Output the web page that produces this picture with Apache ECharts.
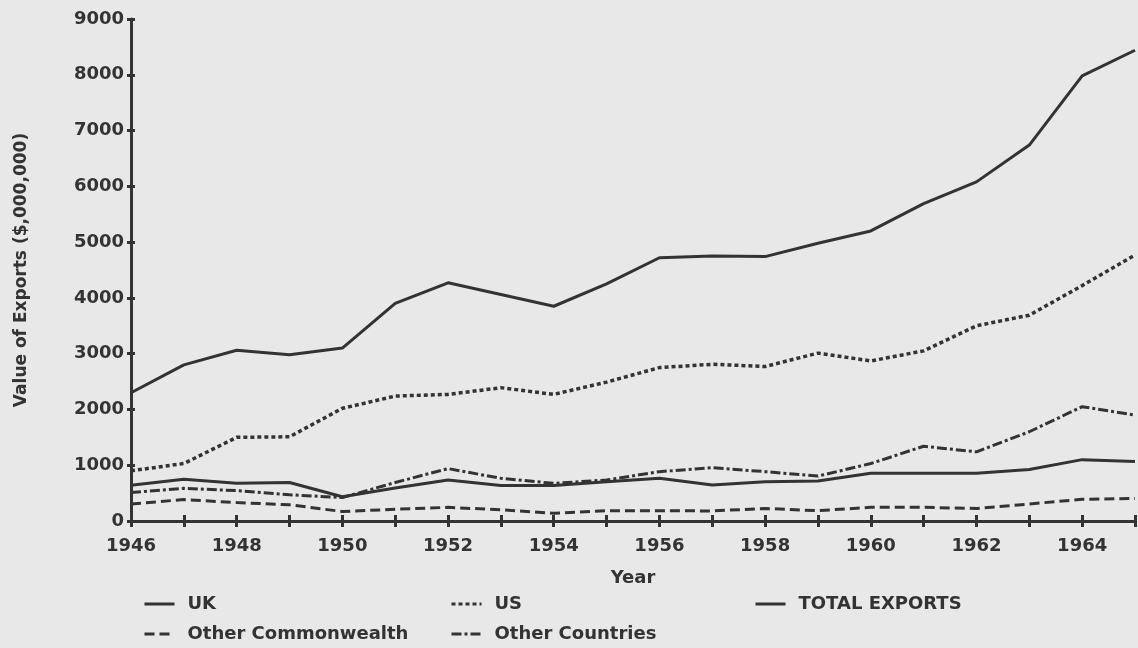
<!DOCTYPE html>
<html><head><meta charset="utf-8">
<script src="https://cdn.jsdelivr.net/npm/echarts@6/dist/echarts.min.js"></script>
<style>html,body{margin:0;padding:0;background:#e8e8e8}#c{width:1138px;height:648px}</style>
</head><body><div id="c"></div>
<script>
const years = [1946,1947,1948,1949,1950,1951,1952,1953,1954,1955,1956,1957,1958,1959,1960,1961,1962,1963,1964,1965];
const totalExports = [2300,2800,3060,2980,3100,3900,4270,4060,3850,4250,4720,4750,4740,4980,5200,5690,6080,6740,7980,8440];
const uk = [640,750,675,690,435,590,735,635,635,705,765,645,705,717,855,855,855,925,1100,1065];
const us = [900,1030,1500,1510,2020,2240,2270,2390,2270,2490,2750,2810,2770,3010,2870,3050,3500,3690,4220,4770];
const otherCommonwealth = [305,385,330,290,170,210,245,200,140,185,185,180,225,185,245,245,225,305,390,405];
const otherCountries = [510,585,545,470,420,690,940,765,675,735,885,955,885,805,1030,1340,1240,1600,2050,1900];

const ink = '#333';
const font = 'DejaVu Sans';
function pairs(v){ return years.map((y,i)=>[y,v[i]]); }
function ser(name, v, type, w){
  return {name, type:'line', data:pairs(v), showSymbol:false, symbol:'none', symbolSize:0,
    lineStyle:{color:ink, width:w, type:type}, itemStyle:{color:ink, opacity:0}, silent:true, animation:false};
}
function leg(name, left, top){
  return {left, top, orient:'horizontal', itemWidth:30, itemHeight:14, itemGap:10,
    data:[name], selectedMode:false, itemStyle:{opacity:0}, lineStyle:{width:3},
    textStyle:{fontFamily:font, fontWeight:'bold', fontSize:18, color:ink, padding:[0,0,0,8]}};
}
const chart = echarts.init(document.getElementById('c'));
chart.setOption({
  backgroundColor:'#e8e8e8',
  animation:false,
  grid:{left:131, right:2, top:19, bottom:127},
  xAxis:[{
    type:'value', min:1946, max:1965, interval:1, position:'bottom',
    name:'Year', nameLocation:'middle', nameGap:48,
    nameTextStyle:{fontFamily:font, fontWeight:'bold', fontSize:18, color:ink},
    axisLine:{lineStyle:{color:ink, width:3}},
    axisTick:{show:true, length:6, lineStyle:{color:ink, width:3}},
    axisLabel:{fontFamily:font, fontWeight:'bold', fontSize:18, color:ink, margin:16,
      formatter:v=> (v%2===0 ? String(v) : '')},
    splitLine:{show:false}
  },{
    type:'value', min:1946, max:1965, interval:1, position:'bottom',
    axisLine:{show:false},
    axisTick:{show:true, inside:true, length:6, lineStyle:{color:ink, width:3}},
    axisLabel:{show:false}, splitLine:{show:false}
  }],
  yAxis:[{
    type:'value', min:0, max:9000, interval:1000,
    name:'Value of Exports ($,000,000)', nameLocation:'middle', nameGap:101, nameRotate:90,
    nameTextStyle:{fontFamily:font, fontWeight:'bold', fontSize:17, color:ink},
    axisLine:{show:true, lineStyle:{color:ink, width:3}},
    axisTick:{show:true, length:4, lineStyle:{color:ink, width:3}},
    axisLabel:{fontFamily:font, fontWeight:'bold', fontSize:18, color:ink, margin:7, formatter:v=>String(v)},
    splitLine:{show:false}
  },{
    type:'value', min:0, max:9000, interval:1000, position:'left',
    axisLine:{show:false},
    axisTick:{show:true, inside:true, length:4, lineStyle:{color:ink, width:3}},
    axisLabel:{show:false}, splitLine:{show:false}
  }],
  legend:[
    leg('UK', 138, 590),
    leg('Other Commonwealth', 138, 620),
    leg('US', 445, 590),
    leg('Other Countries', 445, 620),
    leg('TOTAL EXPORTS', 749, 590)
  ],
  series:[
    ser('TOTAL EXPORTS', totalExports, 'solid', 3),
    ser('UK', uk, 'solid', 3),
    ser('US', us, [4,3], 3.5),
    ser('Other Commonwealth', otherCommonwealth, [10,5], 3),
    ser('Other Countries', otherCountries, [10,3,3,3], 3)
  ]
});
</script></body></html>
